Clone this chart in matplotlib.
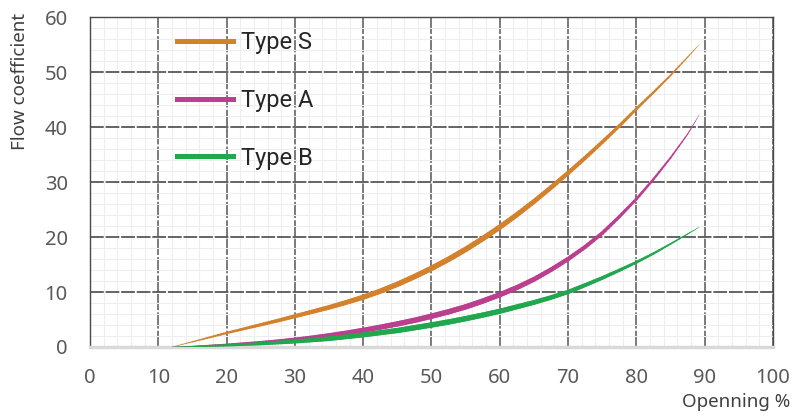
import numpy as np
import matplotlib
matplotlib.use("Agg")
import matplotlib.pyplot as plt
from matplotlib.collections import LineCollection
from matplotlib.lines import Line2D

plt.rcParams['font.family'] = ['Noto Sans', 'DejaVu Sans']

# opening % (x) and flow coefficient per valve type
opening = [12, 15, 17.5, 20, 22.5, 25, 27.5, 30, 32.5, 35, 37.5, 40, 42.5, 45, 47.5, 50,
           52.5, 55, 57.5, 60, 62.5, 65, 67.5, 70, 72.5, 75, 77.5, 80, 82.5, 85, 87.5, 89.2]
type_s = [0, 0.95, 1.75, 2.55, 3.3, 4.05, 4.8, 5.6, 6.4, 7.2, 8.1, 9.05, 10.15, 11.4, 12.8, 14.3,
          15.95, 17.75, 19.7, 21.8, 24.05, 26.45, 29.0, 31.65, 34.4, 37.25, 40.2, 43.3, 46.3, 49.4, 52.7, 55.0]
type_a = [0, 0.1, 0.25, 0.4, 0.6, 0.8, 1.05, 1.35, 1.7, 2.1, 2.55, 3.05, 3.6, 4.2, 4.85, 5.6,
          6.4, 7.3, 8.35, 9.5, 10.8, 12.3, 14.05, 16.0, 18.2, 20.7, 23.7, 26.9, 30.5, 34.4, 38.7, 42.2]
type_b = [0, 0.08, 0.2, 0.3, 0.45, 0.6, 0.8, 1.0, 1.25, 1.5, 1.85, 2.2, 2.6, 3.0, 3.5, 4.0,
          4.55, 5.15, 5.8, 6.5, 7.3, 8.1, 9.0, 10.0, 11.25, 12.55, 13.95, 15.4, 17.0, 18.75, 20.55, 21.8]

labels = ["Type S", "Type A", "Type B"]
colors = ["#D4812C", "#BC3E8E", "#21A84F"]
x_ticks = [0, 10, 20, 30, 40, 50, 60, 70, 80, 90, 100]
y_ticks = [0, 10, 20, 30, 40, 50, 60]

fig = plt.figure(figsize=(8.04, 4.16), dpi=100)
ax = fig.add_axes([90/804, 1-347/416, 683/804, 330/416])

ax.set_xlim(0, 100)
ax.set_ylim(0, 60)
ax.set_xticks(x_ticks)
ax.set_yticks(y_ticks)
ax.set_xticks(np.arange(0, 101, 2), minor=True)
ax.set_yticks(np.arange(0, 61, 2), minor=True)

# grid: light minor, dashed major
ax.grid(which='minor', color="#eeeeee", linewidth=0.8, linestyle='-')
ax.grid(which='major', axis='y', color="#3a3a3a", linewidth=1.1, linestyle=(0, (9, 1.2)))
ax.grid(which='major', axis='x', color="#707070", linewidth=1.3, linestyle=(0, (9, 1.2)))
ax.set_axisbelow(True)

for side in ['top', 'right', 'left']:
    ax.spines[side].set_color("#4a4a4a")
    ax.spines[side].set_linewidth(1.0)
ax.spines['bottom'].set_color("#d9d9d9")
ax.spines['bottom'].set_linewidth(2.5)

ax.tick_params(which='both', length=0)
ax.tick_params(axis='both', labelsize=14.5, labelcolor="#595959")
ax.tick_params(axis='x', pad=15)
ax.tick_params(axis='y', pad=16)


def tapered(ax, xs, ys, color, wmax):
    # split straight pieces finer so the width can change smoothly along the line
    px, py = [], []
    for i in range(len(xs) - 1):
        for k in range(6):
            f = k / 6
            px.append(xs[i] + (xs[i+1] - xs[i]) * f)
            py.append(ys[i] + (ys[i+1] - ys[i]) * f)
    px.append(xs[-1])
    py.append(ys[-1])
    pts = np.column_stack([px, py])
    segs = np.stack([pts[:-1], pts[1:]], axis=1)
    t = np.linspace(0, 1, len(segs))
    widths = 0.3 + wmax * np.sin(np.pi * t) ** 0.8
    lc = LineCollection(segs, colors=color, linewidths=widths, capstyle='round', zorder=3)
    ax.add_collection(lc)


tapered(ax, opening, type_s, colors[0], 3.6)
tapered(ax, opening, type_a, colors[1], 3.6)
tapered(ax, opening, type_b, colors[2], 3.6)

handles = [Line2D([], [], color=c, linewidth=3.6) for c in colors]
leg = ax.legend(handles, labels, loc='upper left', bbox_to_anchor=(0.127, 0.958),
                frameon=False, fontsize=17, handlelength=2.37, handletextpad=0.34,
                labelspacing=1.48, borderpad=0, borderaxespad=0,
                prop={'family': 'Roboto', 'size': 17})
for txt in leg.get_texts():
    txt.set_color("#262626")

ax.set_ylabel("Flow coefficient", fontsize=13.5, color="#404040")
ax.yaxis.set_label_coords(-0.089, 1.012)
ax.yaxis.label.set_va('bottom')
ax.yaxis.label.set_ha('right')
ax.set_xlabel("Openning %", fontsize=13.5, color="#404040")
ax.xaxis.set_label_coords(1.025, -0.14)
ax.xaxis.label.set_ha('right')

fig.savefig("out.png", dpi=100)
